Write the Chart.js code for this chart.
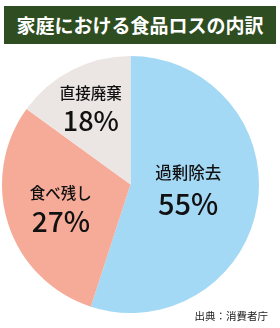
<!DOCTYPE html>
<html>
<head>
<meta charset="utf-8">
<script src="https://cdn.jsdelivr.net/npm/chart.js@4"></script>
<style>
  html, body { margin:0; padding:0; background:#ffffff; }
  #wrap { position:relative; width:280px; height:328px; overflow:hidden; }
  #title { position:absolute; left:4px; top:6px; width:272px; height:38px; background:#2e4d20;
           color:#ffffff; font-family:"Noto Sans CJK JP", sans-serif; font-weight:700; font-size:19px;
           line-height:38px; text-align:center; letter-spacing:0px; }
  #source { position:absolute; right:12px; top:307px; font-family:"Noto Sans CJK JP", sans-serif;
            font-size:10.5px; color:#222; line-height:18px; }
  canvas { position:absolute; left:0; top:0; }
</style>
</head>
<body>
<div id="wrap">
  <canvas id="c" width="280" height="328"></canvas>
  <div id="title">家庭における食品ロスの内訳</div>
  <div id="source">出典：消費者庁</div>
</div>
<script>
const categories = ['過剰除去', '食べ残し', '直接廃棄'];
const values = [55, 30, 15];
const percentLabels = ['55%', '27%', '18%'];
const colors = ['#a4d9f6', '#f5ab98', '#ebe5e3'];

const labelPlugin = {
  id: 'sliceLabels',
  afterDatasetsDraw(chart, args, opts) {
    const ctx = chart.ctx;
    const meta = chart.getDatasetMeta(0);
    meta.data.forEach((arc, i) => {
      const p = arc.getProps(['x', 'y', 'startAngle', 'endAngle', 'outerRadius'], true);
      const mid = (p.startAngle + p.endAngle) / 2 + opts.angleShift[i];
      const r = p.outerRadius * opts.radius[i];
      const cx = p.x + Math.cos(mid) * r;
      const cy = p.y + Math.sin(mid) * r;
      ctx.save();
      ctx.fillStyle = '#111';
      ctx.textAlign = 'center';
      ctx.textBaseline = 'middle';
      ctx.font = '500 ' + opts.nameSize[i] + 'px "Noto Sans CJK JP", sans-serif';
      ctx.fillText(categories[i], cx, cy - opts.gap[i] / 2);
      ctx.font = '500 ' + opts.pctSize[i] + 'px "Noto Sans CJK JP", sans-serif';
      ctx.fillText(percentLabels[i], cx, cy + opts.gap[i] / 2);
      ctx.restore();
    });
  }
};

new Chart(document.getElementById('c'), {
  type: 'pie',
  data: {
    labels: categories,
    datasets: [{ data: values, backgroundColor: colors, borderWidth: 0 }]
  },
  options: {
    responsive: false,
    animation: false,
    layout: { padding: { left: 2, right: 21, top: 56, bottom: 15 } },
    plugins: {
      legend: { display: false },
      tooltip: { enabled: false },
      sliceLabels: {
        radius: [0.45, 0.57, 0.68],
        angleShift: [-0.09, 0, 0],
        gap: [31, 29, 28],
        nameSize: [16.5, 15.5, 15.5],
        pctSize: [29, 28, 27]
      }
    }
  },
  plugins: [labelPlugin]
});
</script>
</body>
</html>
